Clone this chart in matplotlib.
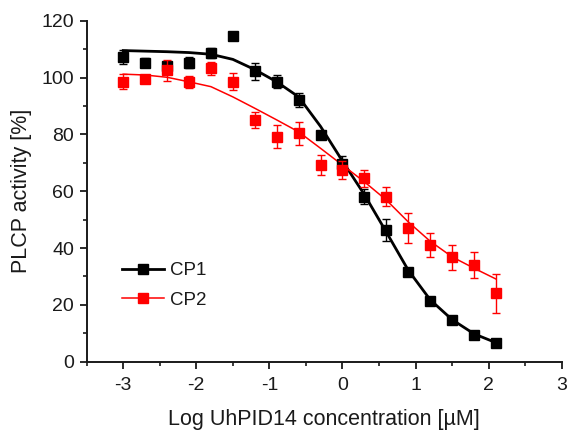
import numpy as np
import matplotlib
matplotlib.use("Agg")
import matplotlib.pyplot as plt
from matplotlib.lines import Line2D
from matplotlib.ticker import MultipleLocator

plt.rcParams['font.family'] = ['Liberation Sans', 'DejaVu Sans']
plt.rcParams['axes.unicode_minus'] = False

# log concentration of the measured points
log_conc = [-3.0, -2.7, -2.4, -2.1, -1.8, -1.5, -1.2, -0.9, -0.6,
            -0.3, 0.0, 0.3, 0.6, 0.9, 1.2, 1.5, 1.8, 2.1]

# CP1 (black)
cp1_mean = [107.2, 105.3, 104.0, 105.2, 108.6, 114.7, 102.3, 98.5, 92.2,
            79.8, 69.5, 58.1, 46.3, 31.4, 21.3, 14.6, 9.5, 6.6]
cp1_err = [2.5, 1.5, 1.5, 2.0, 1.8, 0.8, 3.0, 2.3, 2.5,
           1.5, 3.0, 2.6, 3.9, 1.0, 0.8, 0.5, 0.5, 0.5]
cp1_fit = [109.5, 109.3, 109.1, 108.8, 108.2, 106.4, 102.8, 98.5, 93.2,
           82.8, 70.6, 58.8, 45.6, 32.2, 21.8, 14.8, 9.8, 6.7]

# CP2 (red)
cp2_mean = [98.5, 99.4, 102.5, 98.5, 103.2, 98.5, 85.0, 79.2, 80.4,
            69.2, 67.5, 64.5, 58.1, 47.2, 41.1, 36.7, 34.0, 24.1]
cp2_err = [2.6, 1.2, 3.7, 2.0, 2.3, 3.0, 2.8, 4.1, 4.1,
           3.5, 3.1, 2.9, 3.4, 5.3, 4.2, 4.5, 4.5, 6.8]
cp2_fit = [101.2, 100.9, 100.1, 98.5, 96.8, 93.2, 89.2, 85.1, 80.9,
           75.1, 69.2, 63.3, 56.9, 49.2, 42.4, 36.9, 32.9, 29.1]

fig = plt.figure(figsize=(5.68, 4.32), dpi=100)
ax = fig.add_axes([0.1526, 0.1627, 0.8364, 0.7893])

txt = '#1a1a1a'

# fitted curves
ax.plot(log_conc, cp1_fit, color='black', lw=2.0, zorder=2)
ax.plot(log_conc, cp2_fit, color='red', lw=1.1, zorder=2)

# data points
ax.errorbar(log_conc, cp1_mean, yerr=cp1_err, fmt='s', color='black',
            ms=6.5, elinewidth=1, capsize=3.2, capthick=1, zorder=3)
ax.errorbar(log_conc, cp2_mean, yerr=cp2_err, fmt='s', color='red',
            ms=6.5, elinewidth=1, capsize=3.2, capthick=1, zorder=4)

ax.set_xlim(-3.5, 3)
ax.set_ylim(0, 120)
ax.xaxis.set_major_locator(MultipleLocator(1))
ax.xaxis.set_minor_locator(MultipleLocator(0.5))
ax.yaxis.set_major_locator(MultipleLocator(20))
ax.yaxis.set_minor_locator(MultipleLocator(10))

for s in ['top', 'right']:
    ax.spines[s].set_visible(False)
for s in ['left', 'bottom']:
    ax.spines[s].set_linewidth(1.4)
    ax.spines[s].set_color(txt)

ax.tick_params(which='major', direction='out', length=5, width=1.3,
               labelsize=14, colors=txt, pad=4)
ax.tick_params(axis='x', which='major', pad=6)
ax.tick_params(which='minor', direction='out', length=3, width=1.2, colors=txt)

ax.set_xlabel('Log UhPID14 concentration [µM]', fontsize=15.5, color=txt, labelpad=11)
ax.set_ylabel('PLCP activity [%]', fontsize=15.5, color=txt, labelpad=7)

handles = [
    Line2D([], [], color='black', lw=2.0, marker='s', ms=6.5),
    Line2D([], [], color='red', lw=1.1, marker='s', ms=6.5),
]
ax.legend(handles, ['CP1', 'CP2'], loc='center left', bbox_to_anchor=(0.039, 0.2235),
          frameon=False, fontsize=13.5, handlelength=2.25, handletextpad=0.3,
          labelspacing=0.65, labelcolor=txt)

fig.savefig('out.png', dpi=100)
